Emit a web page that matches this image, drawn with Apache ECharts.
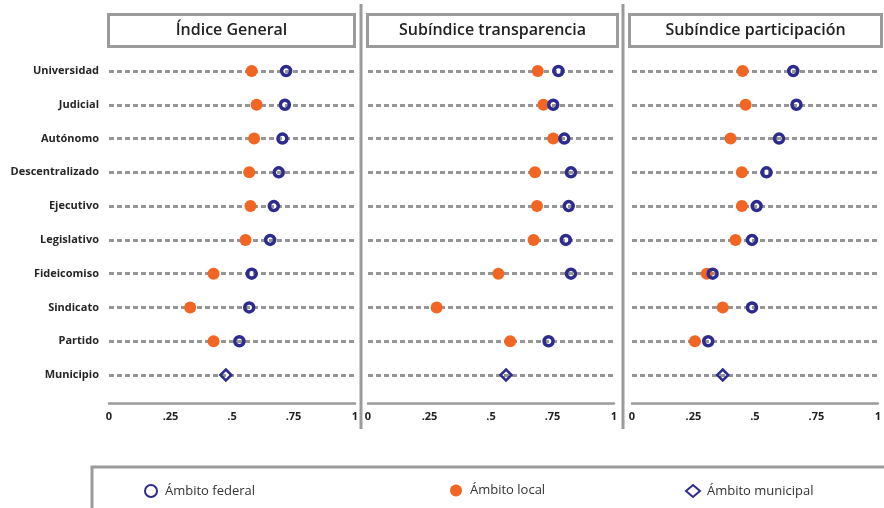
<!DOCTYPE html>
<html>
<head>
<meta charset="utf-8">
<script src="https://cdn.jsdelivr.net/npm/echarts@6/dist/echarts.min.js"></script>
<style>
  html, body { margin: 0; padding: 0; background: #fff; }
  #chart { width: 884px; height: 508px; }
</style>
</head>
<body>
<div id="chart"></div>
<script>
const categories = ['Universidad', 'Judicial', 'Autónomo', 'Descentralizado', 'Ejecutivo', 'Legislativo', 'Fideicomiso', 'Sindicato', 'Partido', 'Municipio']
const panelTitles = ['Índice General', 'Subíndice transparencia', 'Subíndice participación']
const xTicks = [0, 0.25, 0.5, 0.75, 1]

// Índice General
const generalFederal = [0.72, 0.715, 0.705, 0.69, 0.67, 0.655, 0.58, 0.57, 0.53, null]
const generalLocal = [0.58, 0.60, 0.59, 0.57, 0.575, 0.555, 0.425, 0.33, 0.425, null]
const generalMunicipal = [null, null, null, null, null, null, null, null, null, 0.475]
// Subíndice transparencia
const transFederal = [0.774, 0.753, 0.798, 0.825, 0.816, 0.804, 0.825, null, 0.734, null]
const transLocal = [0.69, 0.713, 0.753, 0.679, 0.687, 0.673, 0.53, 0.279, 0.578, null]
const transMunicipal = [null, null, null, null, null, null, null, null, null, 0.561]
// Subíndice participación
const partFederal = [0.656, 0.669, 0.598, 0.547, 0.507, 0.488, 0.328, 0.488, 0.31, null]
const partLocal = [0.45, 0.462, 0.401, 0.447, 0.447, 0.421, 0.304, 0.369, 0.256, null]
const partMunicipal = [null, null, null, null, null, null, null, null, null, 0.369]

const federalName = 'Ámbito federal'
const localName = 'Ámbito local'
const municipalName = 'Ámbito municipal'
const blue = '#2d2c8e'
const orange = '#f26522'
const gray = '#9b9b9b'
const font = '"Open Sans", "DejaVu Sans", sans-serif'

const panelData = [
  [generalFederal, generalLocal, generalMunicipal],
  [transFederal, transLocal, transMunicipal],
  [partFederal, partLocal, partMunicipal]
]
const gridLefts = [109, 368, 632]
const gridWidth = 246

const toPoints = (values) => {
  const out = []
  values.forEach((v, i) => {
    if (v !== null) out.push([v, categories[i]])
  })
  return out
}

const tickFormat = (v) => {
  if (v === 0) return '0'
  if (v === 1) return '1'
  return String(v).replace('0.', '.')
}

const grid = []
const xAxis = []
const yAxis = []
const series = []
const graphic = []

panelData.forEach((set, idx) => {
  grid.push({ left: gridLefts[idx], width: gridWidth, top: 71, height: 304 })
  xAxis.push({
    type: 'value',
    gridIndex: idx,
    min: xTicks[0],
    max: xTicks[xTicks.length - 1],
    interval: 0.25,
    offset: 28,
    axisLine: { show: true, lineStyle: { color: gray, width: 2.5 } },
    axisTick: { show: false },
    splitLine: { show: false },
    axisLabel: {
      margin: 8,
      color: '#222',
      fontFamily: font,
      fontWeight: 'bold',
      fontSize: 11,
      formatter: tickFormat
    }
  })
  yAxis.push({
    type: 'category',
    gridIndex: idx,
    data: categories,
    inverse: true,
    boundaryGap: false,
    axisLine: { show: false },
    axisTick: { show: false },
    axisLabel: {
      show: idx === 0,
      interval: 0,
      margin: 10,
      color: '#262626',
      fontFamily: font,
      fontWeight: 'bold',
      fontSize: 11
    },
    splitLine: {
      show: true,
      interval: 0,
      lineStyle: { color: '#969696', width: 3, type: [5, 3] }
    }
  })
  series.push({
    name: localName,
    type: 'scatter',
    xAxisIndex: idx,
    yAxisIndex: idx,
    symbol: 'circle',
    symbolSize: 12,
    z: 3,
    itemStyle: { color: orange, opacity: 1 },
    data: toPoints(set[1])
  })
  series.push({
    name: federalName,
    type: 'scatter',
    xAxisIndex: idx,
    yAxisIndex: idx,
    symbol: 'circle',
    symbolSize: 9,
    z: 4,
    itemStyle: { color: 'rgba(255,255,255,0)', borderColor: blue, borderWidth: 3.5, opacity: 1 },
    data: toPoints(set[0])
  })
  series.push({
    name: municipalName,
    type: 'scatter',
    xAxisIndex: idx,
    yAxisIndex: idx,
    symbol: 'diamond',
    symbolSize: 11,
    z: 4,
    itemStyle: { color: 'rgba(255,255,255,0)', borderColor: blue, borderWidth: 2.5, opacity: 1 },
    data: toPoints(set[2])
  })
})

// title boxes
const boxes = [[107, 246], [366, 250], [628, 252]]
boxes.forEach((b, idx) => {
  graphic.push({
    type: 'group',
    left: b[0],
    top: 13,
    children: [
      {
        type: 'rect',
        shape: { x: 0, y: 0, width: b[1], height: 32 },
        style: { fill: '#fff', stroke: gray, lineWidth: 3 }
      },
      {
        type: 'text',
        x: b[1] / 2,
        y: 16,
        style: {
          text: panelTitles[idx],
          fill: '#222',
          font: '600 16px ' + font,
          align: 'center',
          verticalAlign: 'middle'
        }
      }
    ]
  })
})

// panel separators
;[361, 623].forEach(x => {
  graphic.push({
    type: 'line',
    shape: { x1: x, y1: 4, x2: x, y2: 429 },
    style: { stroke: gray, lineWidth: 3 }
  })
})

// legend frame
graphic.push({
  type: 'rect',
  z: -1,
  shape: { x: 92, y: 467, width: 820, height: 60 },
  style: { fill: 'none', stroke: gray, lineWidth: 3 }
})

const legendBase = {
  orient: 'horizontal',
  top: 479,
  itemWidth: 14,
  itemHeight: 12,
  textStyle: { color: '#333', fontFamily: font, fontSize: 13, padding: [0, 0, 0, 2] }
}

const option = {
  animation: false,
  backgroundColor: '#fff',
  grid: grid,
  xAxis: xAxis,
  yAxis: yAxis,
  series: series,
  graphic: graphic,
  legend: [
    Object.assign({}, legendBase, { left: 139, data: [federalName] }),
    Object.assign({}, legendBase, { left: 445, data: [localName] }),
    Object.assign({}, legendBase, { left: 680, data: [municipalName] })
  ]
}

const myChart = echarts.init(document.getElementById('chart'))
myChart.setOption(option, true)
</script>
</body>
</html>
